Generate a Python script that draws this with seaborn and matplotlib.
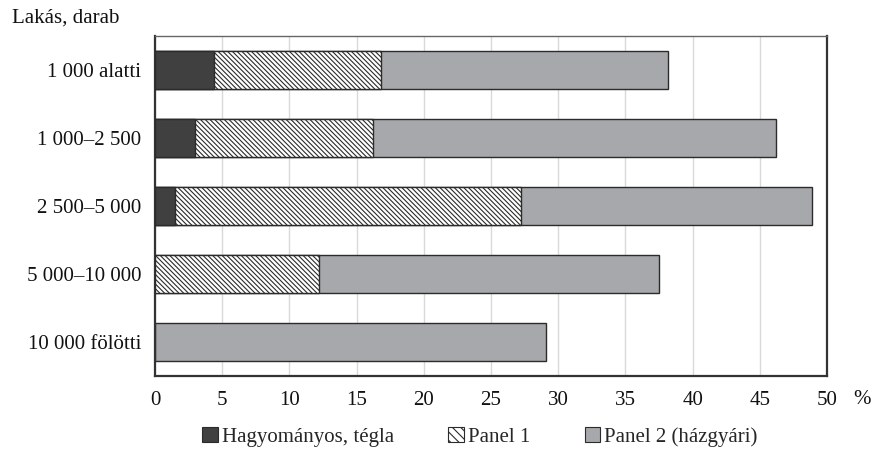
import matplotlib
matplotlib.use("Agg")
import matplotlib.pyplot as plt
import seaborn as sns
import pandas as pd
import numpy as np
from matplotlib.patches import Patch

categories = ["1 000 alatti", "1 000–2 500", "2 500–5 000", "5 000–10 000", "10 000 fölötti"]
hagyomanyos = [4.4, 3.0, 1.5, 0.0, 0.0]
panel1 = [12.4, 13.2, 25.7, 12.2, 0.0]
panel2 = [21.4, 30.0, 21.7, 25.3, 29.1]
series_names = ["Hagyományos, tégla", "Panel 1", "Panel 2 (házgyári)"]
x_ticks = [0, 5, 10, 15, 20, 25, 30, 35, 40, 45, 50]

sns.set_theme(style="white")
plt.rcParams["font.family"] = ["Liberation Serif", "DejaVu Serif"]
plt.rcParams["hatch.linewidth"] = 0.8

df = pd.DataFrame({"cat": categories, "h": hagyomanyos, "p1": panel1, "p2": panel2})
df["c1"] = df["h"]
df["c2"] = df["h"] + df["p1"]
df["c3"] = df["h"] + df["p1"] + df["p2"]

fig = plt.figure(figsize=(8.74, 4.5), dpi=100)
ax = fig.add_axes([155 / 874, 1 - 376 / 450, (827 - 155) / 874, (376 - 36) / 450])

dark = "#404041"
grey = "#a7a8ab"
edge = "#2b2b2b"
bw = 0.55
fs = 15

sns.barplot(data=df, y="cat", x="c3", orient="h", color=grey, edgecolor=edge,
            linewidth=1.0, width=bw, ax=ax, saturation=1, zorder=2)
sns.barplot(data=df, y="cat", x="c2", orient="h", color="white", edgecolor=edge,
            linewidth=1.0, width=bw, ax=ax, saturation=1, hatch="\\" * 7, zorder=3)
sns.barplot(data=df, y="cat", x="c1", orient="h", color=dark, edgecolor=edge,
            linewidth=1.0, width=bw, ax=ax, saturation=1, zorder=4)

for p in ax.patches:
    if p.get_width() <= 0:
        p.set_visible(False)

ax.set_xlim(0, 50)
ax.set_ylim(4.5, -0.5)
ax.set_xticks(x_ticks)
ax.set_xticklabels([str(t) for t in x_ticks], fontsize=fs)
ax.set_ylabel("")
ax.set_xlabel("")
ax.tick_params(axis="y", which="major", length=0, pad=10, labelsize=fs)
ax.set_yticks(np.arange(-0.5, 5.0, 1.0), minor=True)
ax.tick_params(axis="y", which="minor", length=6, width=1, color="#333333", direction="out")
ax.tick_params(axis="x", which="major", length=5, width=1, color="#333333", direction="out", pad=6)
ax.xaxis.grid(True, color="#d9d9d9", linewidth=1.0, zorder=0)
ax.set_axisbelow(True)
for s in ["left", "bottom", "right"]:
    ax.spines[s].set_color("#333333")
    ax.spines[s].set_linewidth(1.6)
ax.spines["top"].set_color("#666666")
ax.spines["top"].set_linewidth(1.0)
for lbl in ax.get_yticklabels():
    lbl.set_color("#111111")
for lbl in ax.get_xticklabels():
    lbl.set_color("#111111")

fig.text(12 / 874, 1 - 18 / 450, "Lakás, darab", fontsize=fs, va="center", ha="left", color="#111111")
fig.text(853 / 874, 1 - 400 / 450, "%", fontsize=fs, va="center", ha="left", color="#111111")

handles = [
    Patch(facecolor=dark, edgecolor=edge, linewidth=0.8),
    Patch(facecolor="white", edgecolor=edge, linewidth=0.8, hatch="\\\\\\\\"),
    Patch(facecolor=grey, edgecolor=edge, linewidth=0.8),
]
fig.legend(handles, series_names, loc="center", bbox_to_anchor=(480 / 874, 1 - 437 / 450),
           ncol=3, frameon=False, fontsize=fs, handlelength=0.75, handleheight=0.75,
           handletextpad=0.2, columnspacing=2.6, borderaxespad=0)

fig.savefig("out.png", dpi=100)
